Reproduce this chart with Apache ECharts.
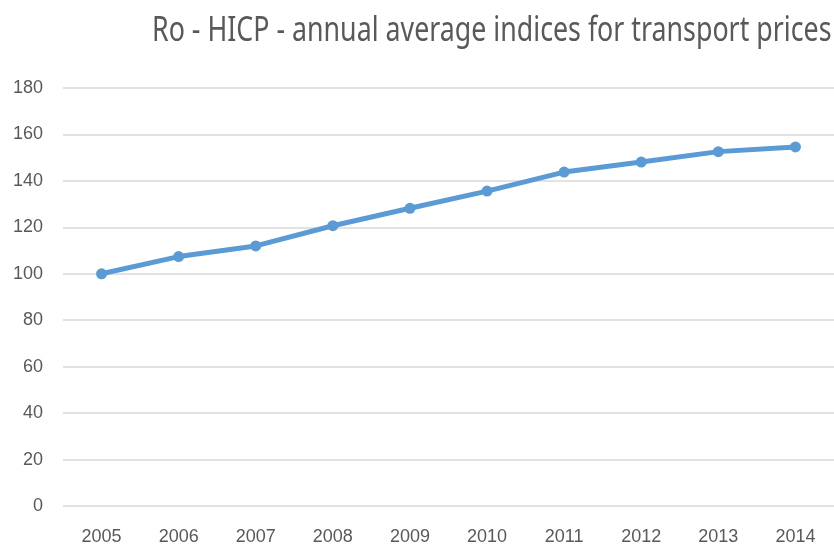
<!DOCTYPE html>
<html>
<head>
<meta charset="utf-8">
<script src="https://cdn.jsdelivr.net/npm/echarts@6/dist/echarts.min.js"></script>
<style>
  html, body { margin: 0; padding: 0; background: #fff; }
  #chart { width: 834px; height: 547px; }
</style>
</head>
<body>
<div id="chart"></div>
<script>
// 数据
var years = ['2005', '2006', '2007', '2008', '2009', '2010', '2011', '2012', '2013', '2014'];
var indices = [100, 107.4, 112, 120.7, 128.2, 135.6, 143.8, 148.1, 152.6, 154.6];
var titleText = 'Ro - HICP - annual average indices for transport prices';

var LABEL_FONT = '"Liberation Sans", Arial, sans-serif';

var myChart = echarts.init(document.getElementById('chart'));
var option = {
    animation: false,
    backgroundColor: '#ffffff',
    // 标题：原图字体较窄，用横向缩放的文字代替
    graphic: [
        {
            type: 'text',
            x: 152,
            y: 31,
            scaleX: 0.765,
            style: {
                text: titleText,
                font: '35px "Noto Sans", sans-serif',
                fill: '#595959',
                verticalAlign: 'middle'
            }
        }
    ],
    grid: {
        left: 63,
        right: 0,
        top: 88,
        bottom: 41
    },
    xAxis: {
        type: 'category',
        data: years,
        boundaryGap: true,
        axisLine: { show: false },
        axisTick: { show: false },
        axisLabel: {
            margin: 22,
            fontFamily: LABEL_FONT,
            fontSize: 18,
            color: '#595959'
        }
    },
    yAxis: {
        type: 'value',
        min: 0,
        max: 180,
        interval: 20,
        axisLine: { show: false },
        axisTick: { show: false },
        axisLabel: {
            margin: 20,
            fontFamily: LABEL_FONT,
            fontSize: 18,
            color: '#595959'
        },
        splitLine: { lineStyle: { color: '#d9d9d9', width: 1.5 } }
    },
    series: [
        {
            name: 'HICP',
            type: 'line',
            data: indices,
            symbol: 'circle',
            symbolSize: 11,
            lineStyle: { color: '#5b9bd5', width: 5 },
            itemStyle: { color: '#5b9bd5' }
        }
    ]
};
myChart.setOption(option);
</script>
</body>
</html>
